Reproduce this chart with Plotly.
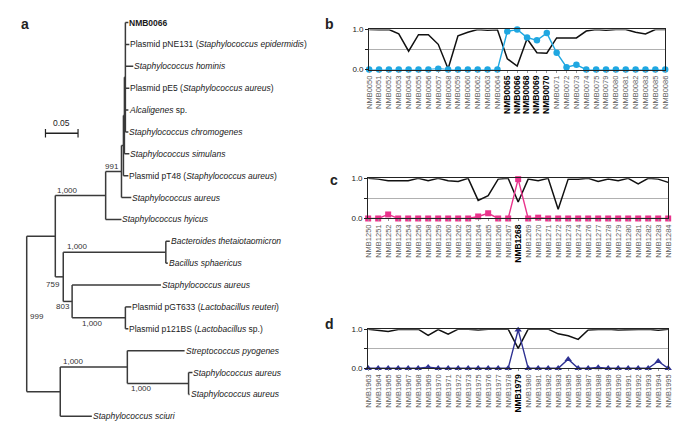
import plotly.graph_objects as go

W, H = 685, 436
FONT = "Liberation Sans, Arial, sans-serif"

# ---------------- tree data (panel a) ----------------
leaf_labels = [
    "<b>NMB0066</b>",
    "Plasmid pNE131 (<i>Staphylococcus epidermidis</i>)",
    "<i>Staphylococcus hominis</i>",
    "Plasmid pE5 (<i>Staphylococcus aureus</i>)",
    "<i>Alcaligenes</i> sp.",
    "<i>Staphylococcus chromogenes</i>",
    "<i>Staphylococcus simulans</i>",
    "Plasmid pT48 (<i>Staphylococcus aureus</i>)",
    "<i>Staphylococcus aureus</i>",
    "<i>Staphylococcus hyicus</i>",
    "<i>Bacteroides thetaiotaomicron</i>",
    "<i>Bacillus sphaericus</i>",
    "<i>Staphylococcus aureus</i>",
    "Plasmid pGT633 (<i>Lactobacillus reuteri</i>)",
    "Plasmid p121BS (<i>Lactobacillus</i> sp.)",
    "<i>Streptococcus pyogenes</i>",
    "<i>Staphylococcus aureus</i>",
    "<i>Staphylococcus aureus</i>",
    "<i>Staphylococcus sciuri</i>",
]
leaf_parent = ["S2", "S2", "S2", "S2", "S2", "S2", "S1", "N4", "N3", "N2",
               "Nb", "Nb", "N6", "N7", "N7", "N9", "N10", "N10", "N8"]
leaf_depth = [0.1561, 0.1576, 0.1636, 0.1576, 0.1561, 0.1561, 0.1576, 0.1561,
              0.1606, 0.1455, 0.2197, 0.2167, 0.2061, 0.1606, 0.1561, 0.2424,
              0.2545, 0.2500, 0.1000]
node_names = ["root", "N1", "N2", "N3", "N4", "S1", "S2", "N5", "Nb", "N6",
              "N7", "N8", "N9", "N10"]
node_parent = [None, "root", "N1", "N2", "N3", "N4", "S1", "N1", "N5", "N5",
               "N6", "root", "N8", "N9"]
node_depth = [0.0, 0.0439, 0.1212, 0.1455, 0.1485, 0.1500, 0.1515, 0.0561,
              0.2136, 0.0697, 0.1515, 0.0515, 0.1545, 0.2485]
support_nodes = ["N3", "N2", "Nb", "N5", "N6", "N7", "root", "N9", "N10"]
support_values = ["991", "1,000", "1,000", "759", "803", "1,000", "999",
                  "1,000", "1,000"]
scale_len = 0.05
scale_label = "0.05"

# ---------------- panel b/c/d data ----------------
b_genes = ["NMB0050", "NMB0051", "NMB0052", "NMB0053", "NMB0054", "NMB0055",
           "NMB0056", "NMB0057", "NMB0058", "NMB0059", "NMB0060", "NMB0062",
           "NMB0063", "NMB0064", "NMB0065", "NMB0066", "NMB0068", "NMB0069",
           "NMB0070", "NMB0071", "NMB0072", "NMB0073", "NMB0074", "NMB0075",
           "NMB0079", "NMB0080", "NMB0081", "NMB0082", "NMB0083", "NMB0085",
           "NMB0086"]
b_bold = ["NMB0065", "NMB0066", "NMB0068", "NMB0069", "NMB0070"]
b_black = [1.0, 0.99, 1.0, 0.89, 0.46, 0.87, 0.87, 0.63, 0.02, 0.84, 0.93, 1.0,
           0.98, 0.99, 0.27, 0.09, 0.77, 0.42, 0.41, 0.79, 0.79, 0.79, 0.96,
           1.0, 0.98, 1.0, 1.0, 0.93, 0.89, 1.0, 1.0]
b_color = [0, 0, 0, 0, 0, 0, 0, 0.02, 0, 0, 0, 0, 0, 0, 0.95, 1.0, 0.8, 0.73,
           0.91, 0.42, 0.06, 0.12, 0, 0, 0, 0, 0, 0, 0, 0, 0]

c_genes = ["NMB1250", "NMB1251", "NMB1252", "NMB1253", "NMB1254", "NMB1256",
           "NMB1258", "NMB1259", "NMB1260", "NMB1262", "NMB1263", "NMB1264",
           "NMB1265", "NMB1266", "NMB1267", "NMB1268", "NMB1269", "NMB1270",
           "NMB1271", "NMB1272", "NMB1273", "NMB1274", "NMB1276", "NMB1277",
           "NMB1278", "NMB1279", "NMB1280", "NMB1281", "NMB1282", "NMB1283",
           "NMB1284"]
c_bold = ["NMB1268"]
c_black = [1.0, 0.98, 0.94, 0.94, 0.94, 1.0, 0.94, 1.0, 0.94, 0.92, 1.0, 0.45,
           0.57, 0.98, 1.0, 0.41, 0.98, 0.94, 1.0, 0.23, 0.98, 0.98, 1.0, 0.92,
           0.98, 0.94, 1.0, 0.86, 1.0, 0.98, 0.9]
c_color = [0, 0, 0.1, 0, 0, 0, 0, 0, 0, 0, 0, 0.05, 0.13, 0, 0, 0.98, 0, 0.02,
           0, 0, 0, 0, 0, 0, 0, 0, 0, 0, 0, 0, 0]

d_genes = ["NMB1963", "NMB1964", "NMB1965", "NMB1966", "NMB1967", "NMB1968",
           "NMB1969", "NMB1970", "NMB1971", "NMB1972", "NMB1973", "NMB1975",
           "NMB1976", "NMB1977", "NMB1978", "NMB1979", "NMB1980", "NMB1981",
           "NMB1982", "NMB1983", "NMB1985", "NMB1986", "NMB1987", "NMB1988",
           "NMB1989", "NMB1990", "NMB1991", "NMB1992", "NMB1993", "NMB1994",
           "NMB1995"]
d_bold = ["NMB1979"]
d_black = [1.0, 0.97, 0.94, 0.99, 0.99, 1.0, 0.84, 0.99, 0.87, 1.0, 1.0, 0.98,
           1.0, 1.0, 1.0, 0.51, 1.0, 1.0, 1.0, 0.88, 0.83, 0.74, 0.98, 0.99,
           1.0, 0.98, 0.99, 0.99, 1.0, 0.97, 1.0]
d_color = [0, 0, 0, 0, 0, 0, 0.03, 0, 0, 0, 0, 0, 0, 0, 0, 0.98, 0, 0, 0, 0,
           0.23, 0, 0, 0.02, 0, 0, 0, 0, 0, 0.18, 0]

# ---------------- build tree geometry ----------------
depth = dict(zip(node_names, node_depth))
parent = dict(zip(node_names, node_parent))
children = {n: [] for n in node_names}
for i, p in enumerate(leaf_parent):
    children[p].append(("leaf", i))
for n, p in zip(node_names, node_parent):
    if p is not None:
        children[p].append(("node", n))

ypos = {}


def node_y(n):
    if n in ypos:
        return ypos[n]
    ys = [c[1] if c[0] == "leaf" else node_y(c[1]) for c in children[n]]
    ypos[n] = (min(ys) + max(ys)) / 2.0
    return ypos[n]


for n in node_names:
    node_y(n)

tx, ty = [], []
for i, p in enumerate(leaf_parent):
    tx += [depth[p], leaf_depth[i], None]
    ty += [i, i, None]
for n in node_names:
    if parent[n] is not None:
        tx += [depth[parent[n]], depth[n], None]
        ty += [ypos[n], ypos[n], None]
    ys = [c[1] if c[0] == "leaf" else ypos[c[1]] for c in children[n]]
    tx += [depth[n], depth[n], None]
    ty += [min(ys), max(ys), None]

fig = go.Figure()
fig.add_trace(go.Scatter(x=tx, y=ty, mode="lines",
                         line=dict(color="#3a3a3a", width=1.5),
                         xaxis="x", yaxis="y", hoverinfo="skip"))

annotations = []
for i, lab in enumerate(leaf_labels):
    annotations.append(dict(x=leaf_depth[i], y=i, xref="x", yref="y",
                            text=lab, showarrow=False, xanchor="left",
                            yanchor="middle", xshift=0, borderpad=0,
                            font=dict(size=8.5, color="#1a1a1a", family=FONT)))

sup_style = {
    "N3": ("parent", "left", -2, "bottom", 0),
    "N2": ("parent", "left", 1, "bottom", 0),
    "Nb": ("parent", "left", 3, "bottom", 0),
    "N5": ("node", "right", -2, "top", -2),
    "N6": ("node", "right", -1, "top", 0),
    "N7": ("parent", "left", 9, "top", 0),
    "root": ("node", "left", 2, "middle", -3),
    "N9": ("parent", "left", 2, "bottom", 0),
    "N10": ("parent", "left", 3, "top", 0),
}
for n, v in zip(support_nodes, support_values):
    ref, xa, xs, ya, ys_ = sup_style[n]
    xx = depth[parent[n]] if ref == "parent" else depth[n]
    annotations.append(dict(x=xx, y=ypos[n], xref="x", yref="y", text=v,
                            showarrow=False, xanchor=xa, yanchor=ya,
                            xshift=xs, yshift=ys_, borderpad=0,
                            font=dict(size=8, color="#333", family=FONT)))

# scale bar
sb_x0 = 0.0288
sb_y = 5.06
fig.add_trace(go.Scatter(x=[sb_x0, sb_x0 + scale_len], y=[sb_y, sb_y],
                         mode="lines+markers",
                         line=dict(color="#222", width=1.5),
                         marker=dict(symbol="line-ns", size=6,
                                     line=dict(color="#222", width=1.2)),
                         xaxis="x", yaxis="y", hoverinfo="skip"))
annotations.append(dict(x=sb_x0 + scale_len / 2, y=sb_y, xref="x", yref="y",
                        text=scale_label, showarrow=False, yanchor="bottom",
                        yshift=3, font=dict(size=8.5, color="#222",
                                            family=FONT)))

# ---------------- line panels ----------------
panels = [
    (b_genes, b_bold, b_black, b_color, "#1fa7e1", "circle", 6.5, "2"),
    (c_genes, c_bold, c_black, c_color, "#e9338c", "square", 6, "3"),
    (d_genes, d_bold, d_black, d_color, "#2e3192", "triangle-up", 6.5, "4"),
]
for genes, bold, blk, col, colr, sym, msz, k in panels:
    fig.add_trace(go.Scatter(x=genes, y=blk, mode="lines",
                             line=dict(color="#111", width=1.5),
                             xaxis="x" + k, yaxis="y" + k, hoverinfo="skip",
                             cliponaxis=False))
    fig.add_trace(go.Scatter(x=genes, y=col, mode="lines+markers",
                             line=dict(color=colr, width=1.4),
                             marker=dict(symbol=sym, size=msz, color=colr),
                             xaxis="x" + k, yaxis="y" + k, hoverinfo="skip",
                             cliponaxis=False))


def xd(a, b):
    return [a / W, b / W]


def yd(top, bot):
    return [1 - bot / H, 1 - top / H]


layout = dict(
    width=W, height=H, margin=dict(l=0, r=0, t=0, b=0),
    paper_bgcolor="white", plot_bgcolor="white", showlegend=False,
    font=dict(family=FONT, size=8, color="#222"),
    xaxis=dict(domain=[0, 350 / W], range=[-22 / 660, 328 / 660],
               visible=False, fixedrange=True),
    yaxis=dict(domain=[0, 1], range=[(436 - 19) / 22.33, -19 / 22.33],
               visible=False, fixedrange=True),
)
geo = {"2": (xd(369, 669), yd(26, 67)),
       "3": (xd(368, 672), yd(178, 219)),
       "4": (xd(368, 672), yd(332, 372))}
for genes, bold, blk, col, colr, sym, msz, k in panels:
    dx, dy = geo[k]
    ticktext = ["<span style='color:#000;font-size:8.5px'><b>%s</b></span>" % g
                if g in bold else g for g in genes]
    layout["xaxis" + k] = dict(
        domain=dx, anchor="y" + k, type="category", range=[0, len(genes) - 1],
        tickmode="array", tickvals=genes, ticktext=ticktext, tickangle=-90,
        tickfont=dict(size=7.5, color="#5a5a5a", family=FONT),
        ticks="outside", ticklen=2, tickcolor="#999", showgrid=False,
        showline=True, linecolor="#222", linewidth=1, mirror=True,
        zeroline=False, ticklabeloverflow="allow")
    layout["yaxis" + k] = dict(
        domain=dy, anchor="x" + k, range=[0, 1], tickmode="array",
        tickvals=[0, 0.5, 1], ticktext=["0.0", "", "1.0"],
        tickfont=dict(size=8, color="#222", family=FONT),
        ticks="outside", ticklen=3, tickcolor="#222", showgrid=True,
        gridcolor="#b0b0b0", gridwidth=1, showline=True, linecolor="#222",
        linewidth=1, mirror=True, zeroline=False)

for letter, px, py in [("a", 20, 20), ("b", 329, 20), ("c", 333, 180),
                       ("d", 329, 327)]:
    annotations.append(dict(x=px / W, y=1 - py / H, xref="paper",
                            yref="paper", text="<b>%s</b>" % letter,
                            showarrow=False, xanchor="center",
                            yanchor="middle",
                            font=dict(size=14, color="#222", family=FONT)))

layout["annotations"] = annotations
fig.update_layout(**layout)
fig.write_html("out.html", config={"displayModeBar": False},
               post_script="document.body.style.margin='0';"
                           "document.body.style.padding='0';")
